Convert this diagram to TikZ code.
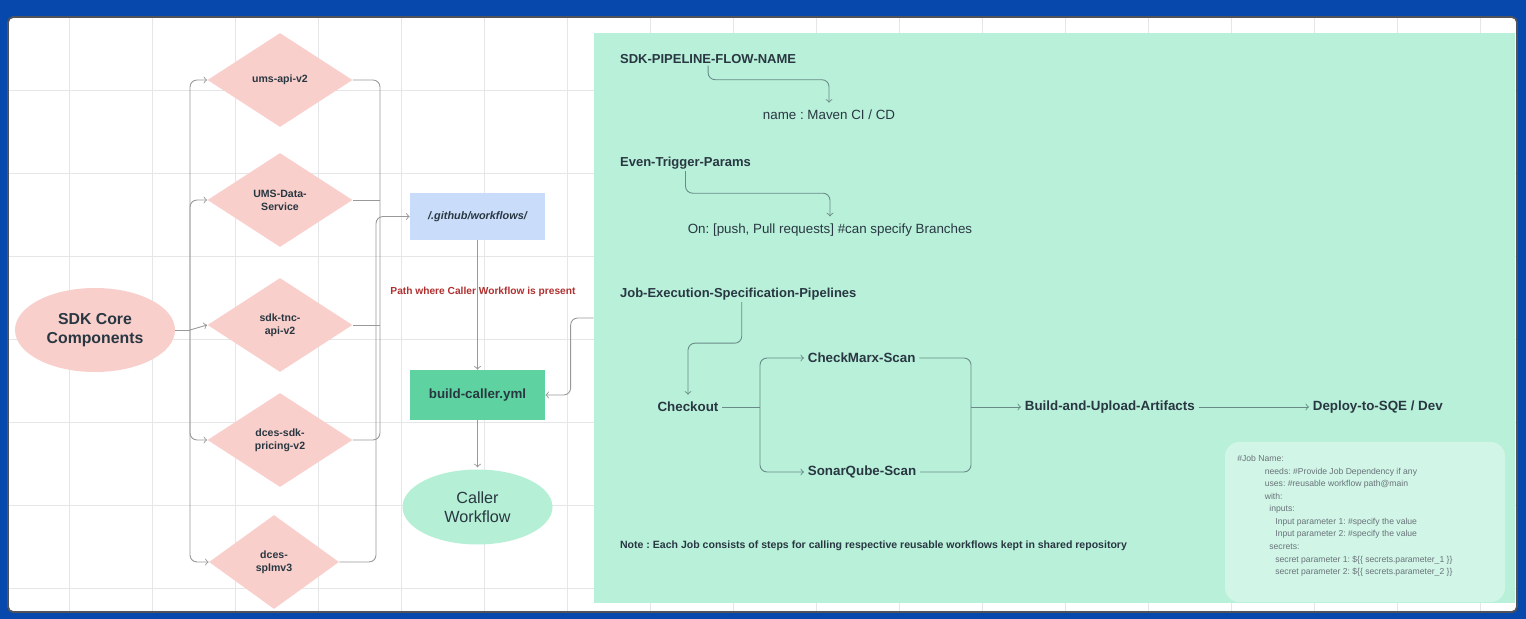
\documentclass[tikz,border=0pt]{standalone}
\usepackage{fontspec}
\setmainfont{Liberation Sans}
\usetikzlibrary{shapes.geometric}
\frenchspacing

\definecolor{fond}{RGB}{6,72,172}
\definecolor{cadre}{RGB}{80,84,90}
\definecolor{grille}{RGB}{228,230,232}
\definecolor{rose}{RGB}{249,207,203}
\definecolor{bleuclair}{RGB}{201,220,250}
\definecolor{vertfonce}{RGB}{94,211,161}
\definecolor{vertclair}{RGB}{181,239,214}
\definecolor{menthe}{RGB}{185,240,218}
\definecolor{menthepale}{RGB}{209,245,230}
\definecolor{ardoise}{RGB}{40,55,65}
\definecolor{rouge}{RGB}{176,48,48}

\begin{document}
\begin{tikzpicture}[x=0.2mm, y=-0.2mm,
    % Styles des formes a gauche
    core/.style={ellipse, fill=rose, minimum width=32mm, minimum height=16.8mm,
                 align=center, text=ardoise, font=\fontsize{9}{11}\selectfont\bfseries},
    composant/.style={diamond, fill=rose, minimum width=29mm, minimum height=18.8mm,
                      inner sep=0pt, align=center, text=ardoise,
                      font=\fontsize{6}{7.4}\selectfont\bfseries},
    dossier/.style={rectangle, fill=bleuclair, minimum width=27mm, minimum height=9.4mm,
                    text=ardoise, font=\fontsize{6.2}{7.4}\selectfont\bfseries\itshape},
    fichier/.style={rectangle, fill=vertfonce, minimum width=27mm, minimum height=10mm,
                    text=ardoise, font=\fontsize{7.6}{9}\selectfont\bfseries},
    appelant/.style={ellipse, fill=vertclair, minimum width=30mm, minimum height=15mm,
                     align=center, text=ardoise, font=\fontsize{9.2}{11}\selectfont},
    % Styles du panneau pipeline
    titre/.style={anchor=west, inner sep=1pt, text=ardoise, font=\fontsize{7.4}{9}\selectfont\bfseries},
    valeur/.style={inner sep=1pt, text=ardoise, font=\fontsize{7.6}{9}\selectfont},
    etape/.style={inner sep=2pt, text=ardoise, font=\fontsize{7.6}{9}\selectfont\bfseries},
    % Style des fleches
    line/.style={draw=gray!80, line width=0.5pt, rounded corners=4pt},
    arrow/.style={line, ->, >=to},
    flow/.style={draw=ardoise!55!menthe, line width=0.5pt, rounded corners=4pt},
    flowarrow/.style={flow, ->, >=to}
]
\useasboundingbox (0,0) rectangle (1526,619);

% ==========================================
% FOND ET GRILLE
% ==========================================
\fill[fond] (0,0) rectangle (1526,619);
\draw[cadre, fill=white, line width=1pt, rounded corners=3pt] (8,17) rectangle (1517,612);
\foreach \x in {69,152,...,1512}
  \draw[grille, line width=0.5pt] (\x,18) -- (\x,611);
\foreach \y in {90,173,...,600}
  \draw[grille, line width=0.5pt] (9,\y) -- (1516,\y);

% ==========================================
% SECTION 1: COMPOSANTS SDK (gauche)
% ==========================================
\node[core] (sdk) at (95,330) {SDK Core\\Components};

\node[composant] (ums) at (280,80) {ums-api-v2};
\node[composant] (uds) at (280,200) {UMS-Data-\\Service};
\node[composant] (tnc) at (280,325) {sdk-tnc-\\api-v2};
\node[composant] (pricing) at (280,440) {dces-sdk-\\pricing-v2};
\node[composant, minimum width=26mm] (splm) at (274,562) {dces-\\splmv3};

% Fleches composants
\coordinate (split) at (190,330);
\draw[line] (sdk.east) -- (split);
\draw[arrow] (split) |- (ums.west);
\draw[arrow] (split) |- (uds.west);
\draw[arrow] (split) -- (tnc.west);
\draw[arrow] (split) |- (pricing.west);
\draw[arrow] (split) |- (splm.west);

\coordinate (rbus) at (380,440);
\coordinate (gbus) at (376,562);
\draw[line] (ums.east) -| (rbus) -- (pricing.east);
\draw[line] (uds.east) -- (uds.east -| rbus);
\draw[line] (tnc.east) -- (tnc.east -| rbus);

% ==========================================
% SECTION 2: WORKFLOW APPELANT (centre)
% ==========================================
\node[dossier] (github) at (477.5,216.5) {/.github/workflows/};
\node[font=\fontsize{5.8}{7}\selectfont\bfseries, text=rouge] (pathlbl) at (483,292)
  {Path where Caller Workflow is present};
\node[fichier] (build) at (477.5,395) {build-caller.yml};
\node[appelant] (caller) at (477.5,507) {Caller\\Workflow};

\draw[arrow] (splm.east) -- (gbus) |- (github.west);
\draw[arrow] (github.south) -- (build.north);
\draw[arrow] (build.south) -- ([yshift=1pt]caller.north);

% ==========================================
% SECTION 3: PIPELINE (droite)
% ==========================================
\node[fill=menthe, minimum width=184.2mm, minimum height=114mm, inner sep=0pt]
  (pipeline) at (1054.5,318) {};
\draw[arrow] (pipeline.west) -- ++(-23,0) |- (build.east);

\node[titre] (flowname) at (618,59) {SDK-PIPELINE-FLOW-NAME};
\node[valeur] (mvn) at (829,115) {name : Maven CI / CD};
\draw[flowarrow] (flowname.south) -- ++(0,14) -| ([yshift=3pt]mvn.north);

\node[titre] (trig) at (618,163) {Even-Trigger-Params};
\node[valeur] (on) at (830,230) {On: [push, Pull requests] \#can specify Branches};
\draw[flowarrow] (trig.south) -- ++(0,22) -| ([yshift=3pt]on.north);

\node[titre] (jobs) at (618,294) {Job-Execution-Specification-Pipelines};
\node[etape] (checkout) at (688,407) {Checkout};
\draw[flowarrow] ([xshift=2pt]jobs.south) -- ++(0,41) -| ([yshift=2pt]checkout.north);

\node[etape, anchor=west] (cmx) at (804,358) {CheckMarx-Scan};
\node[etape, anchor=west] (sonar) at (804,472) {SonarQube-Scan};
\node[etape, anchor=west] (bua) at (1021,407) {Build-and-Upload-Artifacts};
\node[etape, anchor=west] (deploy) at (1309,407) {Deploy-to-SQE / Dev};

\coordinate (fork) at (760,407);
\coordinate (join) at (971,407);
\draw[flow] (checkout.east) -- (fork);
\draw[flowarrow] (fork) |- (cmx.west);
\draw[flowarrow] (fork) |- (sonar.west);
\draw[flow] (cmx.east) -| (join);
\draw[flow] (sonar.east) -| (join);
\draw[flowarrow] (join) -- (bua.west);
\draw[flowarrow] (bua.east) -- (deploy.west);

\node[anchor=west, inner sep=1pt, text=ardoise, font=\fontsize{6}{7}\selectfont\bfseries]
  (note) at (618,546)
  {Note : Each Job consists of steps for calling respective reusable workflows kept in shared repository};

% Bloc de code
\node[fill=menthepale, rounded corners=8pt, minimum width=56mm, minimum height=32mm,
      inner sep=0pt] (codebox) at (1365,522) {};
\node[anchor=north west, align=left, inner sep=0pt, text=ardoise!70,
      font=\fontsize{4.9}{7.15}\selectfont] (code) at (1237,455)
  {\#Job Name:\\
   \hspace*{5.5mm}needs: \#Provide Job Dependency if any\\
   \hspace*{5.5mm}uses: \#reusable workflow path@main\\
   \hspace*{5.5mm}with:\\
   \hspace*{6.4mm}inputs:\\
   \hspace*{7.6mm}Input parameter 1: \#specify the value\\
   \hspace*{7.6mm}Input parameter 2: \#specify the value\\
   \hspace*{6.4mm}secrets:\\
   \hspace*{7.6mm}secret parameter 1: \$\{\{ secrets.parameter\_1 \}\}\\
   \hspace*{7.6mm}secret parameter 2: \$\{\{ secrets.parameter\_2 \}\}};

\end{tikzpicture}
\end{document}
